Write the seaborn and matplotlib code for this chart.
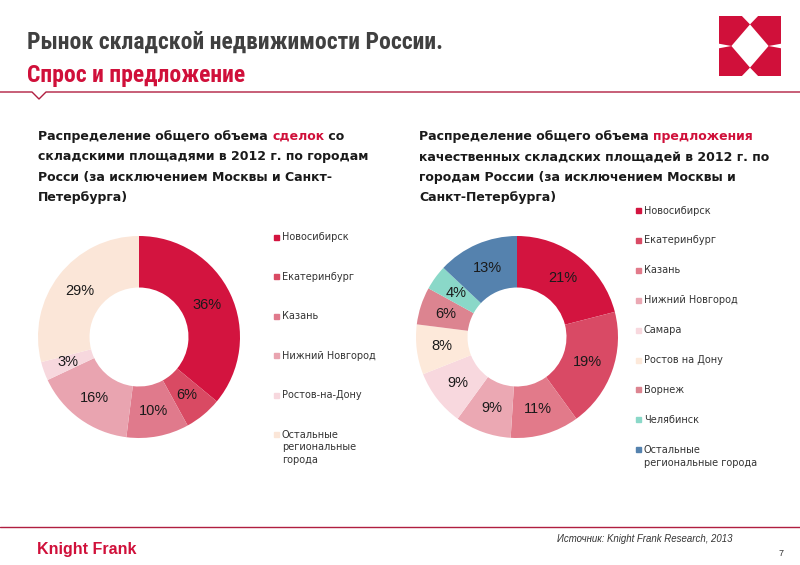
import matplotlib
matplotlib.use("Agg")
import matplotlib.pyplot as plt
import seaborn as sns
from matplotlib.patches import Rectangle, Polygon

# ---------------- data ----------------
left_cities = ["Новосибирск", "Екатеринбург", "Казань", "Нижний Новгород",
               "Ростов-на-Дону", "Остальные\nрегиональные\nгорода"]
left_values = [36, 6, 10, 16, 3, 29]
left_colors = ["#D3143F", "#D94A63", "#E07A8C", "#E9A4B0", "#F7D8DE", "#FBE6D8"]

right_cities = ["Новосибирск", "Екатеринбург", "Казань", "Нижний Новгород",
                "Самара", "Ростов на Дону", "Ворнеж", "Челябинск",
                "Остальные\nрегиональные города"]
right_values = [21, 19, 11, 9, 9, 8, 6, 4, 13]
right_colors = ["#D3143F", "#D94A65", "#E27A8A", "#EBA8B3", "#F8D8DE",
                "#FDE9DA", "#DC8490", "#8AD8C8", "#5582AE"]

RED = "#D0103A"
LINE = "#B01E40"
W, H = 800, 565

sns.set_theme(style="white")
plt.rcParams['font.family'] = ['Liberation Sans', 'DejaVu Sans']

fig = plt.figure(figsize=(8, 5.65), dpi=100)


def fx(x):
    return x / W


def fy(y):
    return 1 - y / H


def donut(cx, cy, r, values, colors):
    ax = fig.add_axes([fx(cx - r), fy(cy + r), 2 * r / W, 2 * r / H])
    ax.pie(values, colors=sns.color_palette(colors), startangle=90, counterclock=False,
           radius=1.0, wedgeprops=dict(width=0.51, edgecolor="none"),
           autopct=lambda p: f"{p:.0f}%", pctdistance=0.745,
           textprops=dict(fontsize=10.5, color="#1a1a1a"))
    ax.set_xlim(-1, 1)
    ax.set_ylim(-1, 1)
    ax.set_aspect("equal")
    ax.axis("off")
    return ax


donut(139, 337, 101, left_values, left_colors)
donut(517, 337, 101, right_values, right_colors)


def legend(x, y0, step, cats, colors):
    for i, (c, col) in enumerate(zip(cats, colors)):
        y = y0 + i * step
        fig.patches.append(Rectangle((fx(x), fy(y + 3)), 5 / W, 5 / H,
                                     transform=fig.transFigure, color=col))
        fig.text(fx(x + 8), fy(y - 4.5), c, fontsize=7, color="#333333",
                 va="top", ha="left", linespacing=1.35, family="DejaVu Sans")


legend(274, 237, 39.4, left_cities, left_colors)
legend(636, 210, 29.9, right_cities, right_colors)

# ---------------- titles ----------------
TFAM = ['Roboto Condensed', 'Liberation Sans', 'DejaVu Sans']
fig.text(fx(27), fy(49), "Рынок складской недвижимости России.", fontsize=17,
         fontweight="bold", color="#404040", va="baseline", family=TFAM)
fig.text(fx(27), fy(82), "Спрос и предложение", fontsize=17,
         fontweight="bold", color=RED, va="baseline", family=TFAM)

# header line with notch
fig.lines.append(plt.Line2D([0, fx(32), fx(39), fx(46), 1],
                            [fy(92), fy(92), fy(99), fy(92), fy(92)],
                            transform=fig.transFigure, color=LINE, lw=1))
fig.lines.append(plt.Line2D([0, 1], [fy(527), fy(527)],
                            transform=fig.transFigure, color=LINE, lw=1))

# subtitles with coloured word
fig.canvas.draw()
renderer = fig.canvas.get_renderer()


def rich_line(x, y, parts, size=9):
    cur = fx(x)
    for txt, col in parts:
        t = fig.text(cur, fy(y), txt, fontsize=size, fontweight="bold",
                     color=col, va="baseline", family="DejaVu Sans")
        bb = t.get_window_extent(renderer=renderer)
        cur += bb.width / fig.bbox.width


left_lines = [[("Распределение общего объема ", "#1a1a1a"), ("сделок", RED), (" со", "#1a1a1a")],
              [("складскими площадями в 2012 г. по городам", "#1a1a1a")],
              [("Росси (за исключением Москвы и Санкт-", "#1a1a1a")],
              [("Петербурга)", "#1a1a1a")]]
right_lines = [[("Распределение общего объема ", "#1a1a1a"), ("предложения", RED)],
               [("качественных складских площадей в 2012 г. по", "#1a1a1a")],
               [("городам России (за исключением Москвы и", "#1a1a1a")],
               [("Санкт-Петербурга)", "#1a1a1a")]]
for i, ln in enumerate(left_lines):
    rich_line(38, 140 + i * 20.3, ln)
for i, ln in enumerate(right_lines):
    rich_line(419, 140 + i * 20.3, ln)

# footer
fig.text(fx(37), fy(554), "Knight Frank", fontsize=11.5, fontweight="bold",
         color=RED, va="baseline")
fig.text(fx(557), fy(542), "Источник: Knight Frank Research, 2013", fontsize=6.9,
         style="italic", color="#333333", va="baseline")
fig.text(fx(779), fy(556), "7", fontsize=6.5, color="#333333", va="baseline")

# logo
lax = fig.add_axes([fx(719), fy(76), 62 / W, 60 / H])
lax.set_xlim(0, 1)
lax.set_ylim(0, 1)
lax.axis("off")
lax.add_patch(Rectangle((0, 0), 1, 1, color=RED, lw=0))
for poly in [[(0.2, 0.5), (0.5, 0.86), (0.8, 0.5), (0.5, 0.14)],
             [(0.36, 1.01), (0.64, 1.01), (0.5, 0.86)],
             [(0.36, -0.01), (0.64, -0.01), (0.5, 0.14)],
             [(-0.01, 0.46), (-0.01, 0.54), (0.2, 0.5)],
             [(1.01, 0.46), (1.01, 0.54), (0.8, 0.5)]]:
    lax.add_patch(Polygon(poly, closed=True, color="white", lw=0))

fig.savefig("out.png", dpi=100)
